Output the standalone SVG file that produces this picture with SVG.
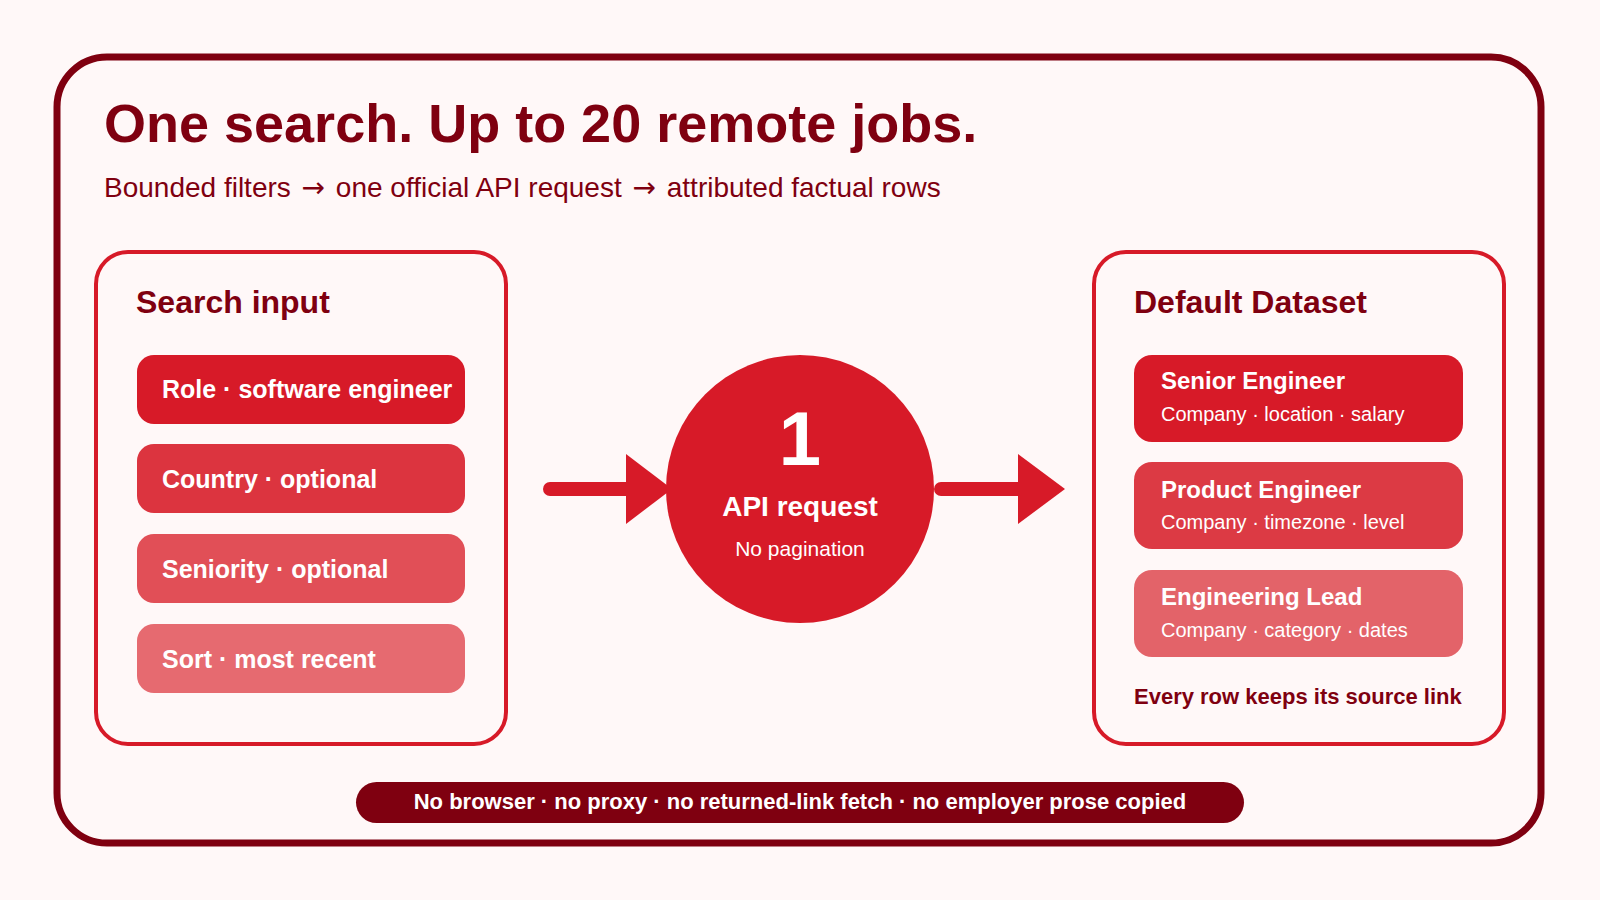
<svg xmlns="http://www.w3.org/2000/svg" width="1600" height="900" viewBox="0 0 1600 900">
<defs>
<style>
text{font-family:"Liberation Sans",Arial,Helvetica,sans-serif}
.dark{fill:#7f0010}
.b{font-weight:bold}
.w{fill:#ffffff}
.arr{font-family:"DejaVu Sans",sans-serif}
.panel{fill:#fff8f8;stroke:#d71a28;stroke-width:4}
.pill-t{font-size:25px;font-weight:bold;fill:#ffffff}
.card-t{font-size:24px;font-weight:bold;fill:#ffffff}
.card-s{font-size:20px;fill:#ffffff}
.conn{stroke:#d71a28;stroke-width:14;stroke-linecap:round;fill:none}
.head{fill:#d71a28}
</style>
</defs>
<rect x="0" y="0" width="1600" height="900" fill="#fff8f8"/>
<rect id="frame" x="57" y="57" width="1484" height="786" rx="50" fill="#fff8f8" stroke="#7f0010" stroke-width="7"/>
<g id="title">
<text x="104" y="142" font-size="54" class="dark b">One search. Up to 20 remote jobs.</text>
<text x="104" y="197" font-size="28" class="dark">Bounded filters <tspan class="arr" dx="3">→</tspan><tspan dx="3"> one official API request </tspan><tspan class="arr" dx="3">→</tspan><tspan dx="3"> attributed factual rows</tspan></text>
</g>
<g id="connectors">
<line class="conn" x1="550" y1="489" x2="630" y2="489"/>
<polygon class="head" points="626,454 672,489 626,524"/>
<line class="conn" x1="941" y1="489" x2="1022" y2="489"/>
<polygon class="head" points="1018,454 1065,489 1018,524"/>
</g>
<g id="search-input">
<rect class="panel" x="96" y="252" width="410" height="492" rx="32"/>
<text x="136" y="313" font-size="32" class="dark b">Search input</text>
<g id="role"><rect x="137" y="355" width="328" height="69" rx="17" fill="#d71a28"/><text x="162" y="398" class="pill-t">Role · software engineer</text></g>
<g id="country"><rect x="137" y="444" width="328" height="69" rx="17" fill="#dc343f"/><text x="162" y="488" class="pill-t">Country · optional</text></g>
<g id="seniority"><rect x="137" y="534" width="328" height="69" rx="17" fill="#e14f57"/><text x="162" y="578" class="pill-t">Seniority · optional</text></g>
<g id="sort"><rect x="137" y="624" width="328" height="69" rx="17" fill="#e66a70"/><text x="162" y="668" class="pill-t">Sort · most recent</text></g>
</g>
<g id="api-request">
<circle cx="800" cy="489" r="134" fill="#d71a28"/>
<text x="800" y="465" font-size="76" text-anchor="middle" class="w b">1</text>
<text x="800" y="516" font-size="28" text-anchor="middle" class="w b">API request</text>
<text x="800" y="556" font-size="21" text-anchor="middle" class="w">No pagination</text>
</g>
<g id="default-dataset">
<rect class="panel" x="1094" y="252" width="410" height="492" rx="32"/>
<text x="1134" y="313" font-size="32" class="dark b">Default Dataset</text>
<g id="senior"><rect x="1134" y="355" width="329" height="87" rx="18" fill="#d71a28"/><text x="1161" y="389" class="card-t">Senior Engineer</text><text x="1161" y="421" class="card-s">Company · location · salary</text></g>
<g id="product"><rect x="1134" y="462" width="329" height="87" rx="18" fill="#dc3a44"/><text x="1161" y="498" class="card-t">Product Engineer</text><text x="1161" y="529" class="card-s">Company · timezone · level</text></g>
<g id="lead"><rect x="1134" y="570" width="329" height="87" rx="18" fill="#e36369"/><text x="1161" y="605" class="card-t">Engineering Lead</text><text x="1161" y="637" class="card-s">Company · category · dates</text></g>
<text x="1134" y="704" font-size="22" class="dark b">Every row keeps its source link</text>
</g>
<g id="footer">
<rect x="356" y="782" width="888" height="41" rx="20.5" fill="#7f0010"/>
<text x="800" y="809" font-size="22" text-anchor="middle" class="w b">No browser · no proxy · no returned-link fetch · no employer prose copied</text>
</g>
</svg>
